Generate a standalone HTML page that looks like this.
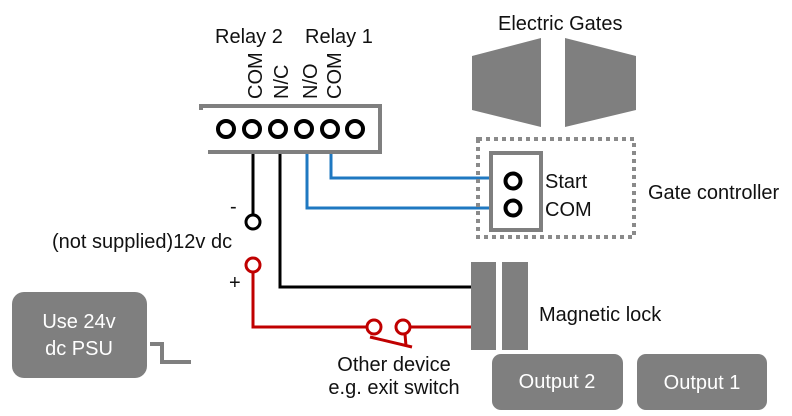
<!DOCTYPE html>
<html><head><style>
body{margin:0;background:#fff}
svg{display:block}
text{font-family:"Liberation Sans",Arial,sans-serif;font-size:20px;fill:#111}
</style></head><body>
<svg width="792" height="416" viewBox="0 0 792 416" xmlns="http://www.w3.org/2000/svg">
<text x="215" y="43">Relay 2</text>
<text x="305" y="43">Relay 1</text>
<text transform="translate(262,99) rotate(-90)">COM</text>
<text transform="translate(288,99) rotate(-90)">N/C</text>
<text transform="translate(317,99) rotate(-90)">N/O</text>
<text transform="translate(341,99) rotate(-90)">COM</text>
<polyline points="199,106 380,106 380,152 208,152" fill="none" stroke="#7f7f7f" stroke-width="4"/>
<line x1="201" y1="104" x2="201" y2="110" stroke="#7f7f7f" stroke-width="4"/>
<g fill="none" stroke="#000" stroke-width="4">
<circle cx="226" cy="129" r="8"/><circle cx="252" cy="129" r="8"/><circle cx="278" cy="129" r="8"/>
<circle cx="304" cy="129" r="8"/><circle cx="330" cy="129" r="8"/><circle cx="355" cy="129" r="8"/>
</g>
<g fill="none" stroke-width="3">
<polyline points="253,154 253,215" stroke="#000"/>
<circle cx="253" cy="222" r="7" stroke="#000"/>
<polyline points="280,154 280,287 472,287" stroke="#000"/>
<polyline points="307,154 307,208 489,208" stroke="#1f78c1"/>
<polyline points="331,154 331,178 489,178" stroke="#1f78c1"/>
<circle cx="253" cy="265" r="7" stroke="#c00000"/>
<polyline points="253,272 253,327 367,327" stroke="#c00000"/>
<circle cx="374" cy="327" r="7" stroke="#c00000"/>
<circle cx="403" cy="327" r="7" stroke="#c00000"/>
<line x1="410" y1="327" x2="472" y2="327" stroke="#c00000"/>
<line x1="370" y1="337" x2="412" y2="347" stroke="#c00000"/>
<line x1="405" y1="334" x2="406" y2="346" stroke="#c00000"/>
</g>
<text x="230" y="213">-</text>
<text x="229" y="289">+</text>
<text x="52" y="248">(not supplied)12v dc</text>
<rect x="12" y="292" width="135" height="86" rx="12" fill="#7f7f7f"/>
<text x="79" y="328" text-anchor="middle" style="fill:#fff">Use 24v</text>
<text x="79" y="355" text-anchor="middle" style="fill:#fff">dc PSU</text>
<polyline points="150,344 162,344 162,362 191,362" fill="none" stroke="#7f7f7f" stroke-width="4"/>
<text x="394" y="371" text-anchor="middle">Other device</text>
<text x="394" y="394" text-anchor="middle">e.g. exit switch</text>
<text x="498" y="30">Electric Gates</text>
<polygon points="472,56 541,38 541,127 472,110" fill="#7f7f7f"/>
<polygon points="565,38 636,56 636,110 565,127" fill="#7f7f7f"/>
<rect x="478" y="139" width="156" height="98" fill="none" stroke="#8a8a8a" stroke-width="4" stroke-dasharray="4,4"/>
<rect x="491" y="153" width="50" height="77" fill="none" stroke="#7f7f7f" stroke-width="4"/>
<circle cx="513" cy="181" r="7.5" fill="none" stroke="#000" stroke-width="4"/>
<circle cx="513" cy="208" r="7.5" fill="none" stroke="#000" stroke-width="4"/>
<text x="545" y="188">Start</text>
<text x="545" y="216">COM</text>
<text x="648" y="199">Gate controller</text>
<rect x="471" y="262" width="25" height="88" fill="#7f7f7f"/>
<rect x="502" y="262" width="26" height="88" fill="#7f7f7f"/>
<text x="539" y="321">Magnetic lock</text>
<rect x="492" y="354" width="131" height="56" rx="9" fill="#7f7f7f"/>
<text x="557" y="388" text-anchor="middle" style="fill:#fff">Output 2</text>
<rect x="637" y="354" width="130" height="56" rx="9" fill="#7f7f7f"/>
<text x="702" y="389" text-anchor="middle" style="fill:#fff">Output 1</text>
</svg>
</body></html>
